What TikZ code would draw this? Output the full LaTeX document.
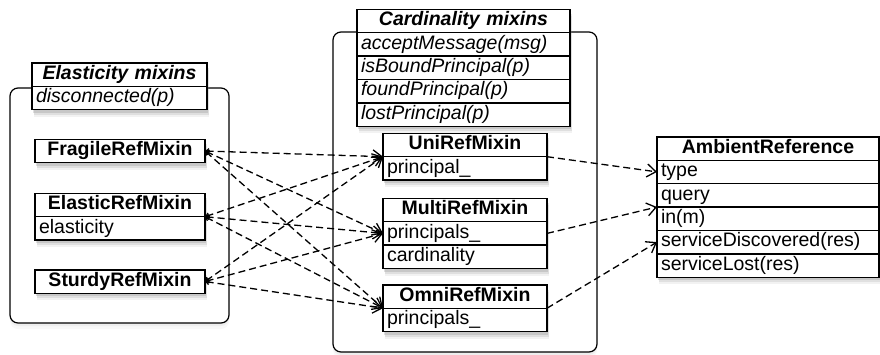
\documentclass[tikz,border=0pt]{standalone}
\usepackage{fontspec}
\setmainfont{Liberation Sans}
\usetikzlibrary{positioning,fit,arrows.meta,shadows,backgrounds}
\newcommand\figfont{\fontsize{19.5}{23}\selectfont}

\begin{document}
\begin{tikzpicture}[x=1pt,y=-1pt]
\tikzset{cell/.style = {draw, fill=white, line width=1.4pt, outer sep=0pt, inner xsep=4pt, inner ysep=0pt,
  minimum height=23.4pt, text height=14pt, text depth=4.5pt, align=left, text width=#1, font=\figfont}}
\tikzset{head/.style = {cell=#1, align=center, font=\figfont\bfseries}}
\tikzset{ihead/.style = {head=#1, font=\figfont\bfseries\itshape}}
\tikzset{icell/.style = {cell=#1, font=\figfont\itshape}}
\tikzset{boxshadow/.style = {fit=#1, fill=white, inner sep=0pt, outer sep=0pt,
  drop shadow={shadow xshift=2pt, shadow yshift=-7pt, opacity=0.10},
  drop shadow={shadow xshift=1.5pt, shadow yshift=-5pt, opacity=0.16},
  drop shadow={shadow xshift=1pt, shadow yshift=-3pt, opacity=0.25}}}
\tikzset{group/.style = {draw, fill=white, line width=1.2pt, rounded corners=8pt, inner sep=0pt,
  drop shadow={shadow xshift=0pt, shadow yshift=-6pt, opacity=0.06},
  drop shadow={shadow xshift=0pt, shadow yshift=-3pt, opacity=0.08}}}
\tikzset{link/.style = {line width=1.3pt, dash pattern=on 7pt off 4pt,
  {Straight Barb[length=3pt,width=5pt]}-{Straight Barb[length=9pt,width=13pt]}}}
\tikzset{rlink/.style = {link, -{Straight Barb[length=9pt,width=13pt]}}}
\useasboundingbox (0,0) rectangle (880,354);
% elasticity mixins
\node[ihead=167pt] (el) at (119.5,74.5) {Elasticity mixins};
\node[icell=167pt, below=0pt of el] (elA) {disconnected(p)};
\node[head=162pt] (frag) at (120,151) {FragileRefMixin};
\node[head=162pt] (elastic) at (120,205) {ElasticRefMixin};
\node[cell=162pt, below=0pt of elastic] (elasticA) {elasticity};
\node[head=162pt] (sturdy) at (120,281.5) {SturdyRefMixin};
% cardinality mixins
\node[ihead=205pt] (card) at (463.5,20.9) {Cardinality mixins};
\node[icell=205pt, below=0pt of card] (cardA) {acceptMessage(msg)};
\node[icell=205pt, below=0pt of cardA] (cardB) {isBoundPrincipal(p)};
\node[icell=205pt, below=0pt of cardB] (cardC) {foundPrincipal(p)};
\node[icell=205pt, below=0pt of cardC] (cardD) {lostPrincipal(p)};
\node[head=156pt] (uni) at (465,145) {UniRefMixin};
\node[cell=156pt, below=0pt of uni] (uniA) {principal\_};
\node[head=156pt] (multi) at (465,210) {MultiRefMixin};
\node[cell=156pt, below=0pt of multi] (multiA) {principals\_};
\node[cell=156pt, below=0pt of multiA] (multiB) {cardinality};
\node[head=156pt] (omni) at (465,296.5) {OmniRefMixin};
\node[cell=156pt, below=0pt of omni] (omniA) {principals\_};
% ambient reference
\node[head=214pt] (amb) at (768,148.5) {AmbientReference};
\node[cell=214pt, below=0pt of amb] (ambA) {type};
\node[cell=214pt, below=0pt of ambA] (ambB) {query};
\node[cell=214pt, below=0pt of ambB] (ambC) {in(m)};
\node[cell=214pt, below=0pt of ambC] (ambD) {serviceDiscovered(res)};
\node[cell=214pt, below=0pt of ambD] (ambE) {serviceLost(res)};
% groups and shadows
\begin{scope}[on background layer]
\node[group, minimum width=219pt, minimum height=235pt] (elGrp) at (119.5,205.5) {};
\node[group, minimum width=264pt, minimum height=320pt] (cardGrp) at (465,192) {};
\node[boxshadow={(el)(elA)}] (elBox) {};
\node[boxshadow={(frag)}] (fragBox) {};
\node[boxshadow={(elastic)(elasticA)}] (elasticBox) {};
\node[boxshadow={(sturdy)}] (sturdyBox) {};
\node[boxshadow={(card)(cardD)}] (cardBox) {};
\node[boxshadow={(uni)(uniA)}] (uniBox) {};
\node[boxshadow={(multi)(multiB)}] (multiBox) {};
\node[boxshadow={(omni)(omniA)}] (omniBox) {};
\node[boxshadow={(amb)(ambE)}] (ambBox) {};
\end{scope}
% edges
\draw[link] (fragBox.east) -- (uniBox.west);
\draw[link] (fragBox.east) -- (multiBox.west);
\draw[link] (fragBox.east) -- (omniBox.west);
\draw[link] (elasticBox.east) -- (uniBox.west);
\draw[link] (elasticBox.east) -- (multiBox.west);
\draw[link] (elasticBox.east) -- (omniBox.west);
\draw[link] (sturdyBox.east) -- (uniBox.west);
\draw[link] (sturdyBox.east) -- (multiBox.west);
\draw[link] (sturdyBox.east) -- (omniBox.west);
\draw[rlink] (uniBox.east) -- (ambA.west);
\draw[rlink] (multiBox.east) -- (ambBox.west);
\draw[rlink] (omniBox.east) -- (ambD.west);
\end{tikzpicture}
\end{document}
